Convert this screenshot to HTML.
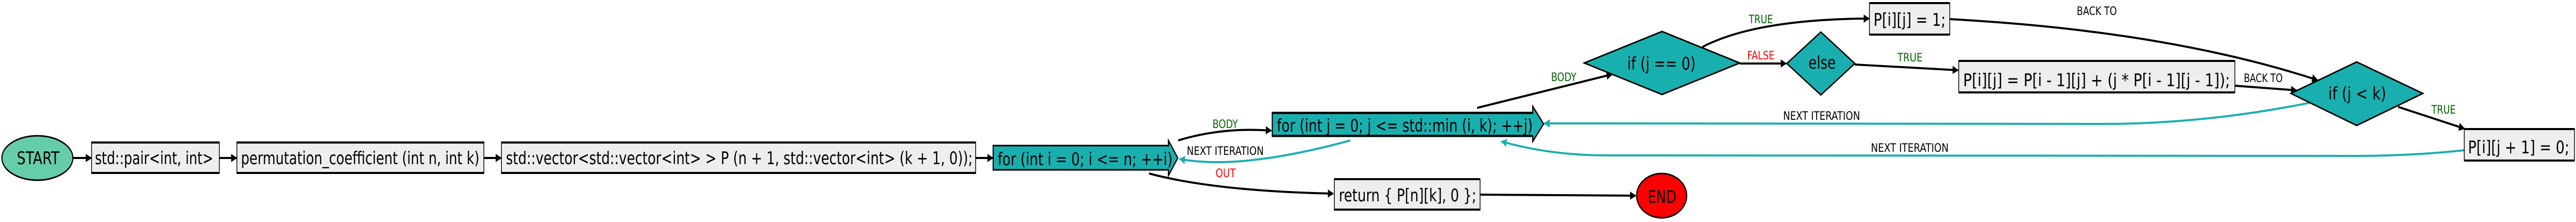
<!DOCTYPE html>
<html><head><meta charset="utf-8"><style>
html,body{margin:0;padding:0;background:#fff;width:100%;height:100%;overflow:hidden;}
svg{display:block;width:100vw;height:100vh;}
text{font-family:"DejaVu Sans Condensed","Liberation Sans",sans-serif;}
</style></head><body>
<svg viewBox="0 0 6894 430" preserveAspectRatio="none" xmlns="http://www.w3.org/2000/svg">
<defs>
<marker id="ab" viewBox="0 0 10 10" refX="9" refY="5" markerWidth="4" markerHeight="4" orient="auto" markerUnits="strokeWidth"><path d="M0,0 L10,5 L0,10 z" fill="#000"/></marker>
<marker id="at" viewBox="0 0 10 10" refX="9" refY="5" markerWidth="4" markerHeight="4" orient="auto" markerUnits="strokeWidth"><path d="M0,0 L10,5 L0,10 z" fill="#1aafaf"/></marker>
</defs>

<g fill="none" stroke-width="4">
<path d="M196,306 L244,306" stroke="#000" marker-end="url(#ab)"/>
<path d="M587,306 L633,306" stroke="#000" marker-end="url(#ab)"/>
<path d="M1295,306 L1341,306" stroke="#000" marker-end="url(#ab)"/>
<path d="M2611,306 L2657,306" stroke="#000" marker-end="url(#ab)"/>
<path d="M3153,272 Q3270,246 3402,253" stroke="#000" marker-end="url(#ab)"/>
<path d="M3614,272 Q3320,330 3157,308" stroke="#1aafaf" marker-end="url(#at)"/>
<path d="M3075,336 Q3250,370 3568,375" stroke="#000" marker-end="url(#ab)"/>
<path d="M3961,377 L4377,379" stroke="#000" marker-end="url(#ab)"/>
<path d="M3953,209 L4314,144" stroke="#000" marker-end="url(#ab)"/>
<path d="M4656,123 L4780,123" stroke="#000" marker-end="url(#ab)"/>
<path d="M4556,91 Q4700,37 5002,36" stroke="#000" marker-end="url(#ab)"/>
<path d="M4964,125 L5240,136" stroke="#000" marker-end="url(#ab)"/>
<path d="M5218,37 Q5800,60 6202,155" stroke="#000" marker-end="url(#ab)"/>
<path d="M5981,166 L6146,175" stroke="#000" marker-end="url(#ab)"/>
<path d="M6418,207 L6595,249" stroke="#000" marker-end="url(#ab)"/>
<path d="M6182,199 Q5900,240 5628,240 L4133,239" stroke="#1aafaf" marker-end="url(#at)"/>
<path d="M6596,291 Q6450,302 6309,302 L4300,301 Q4150,301 4018,274" stroke="#1aafaf" marker-end="url(#at)"/>
</g>

<g>
<ellipse cx="100" cy="306" rx="95" ry="43" fill="#66cdaa" stroke="#000" stroke-width="3"/>
<text x="102" y="318" font-size="34" text-anchor="middle" textLength="114" lengthAdjust="spacingAndGlyphs">START</text>
</g>

<g>
<rect x="245" y="275" width="342" height="61" fill="#eee" stroke="#000" stroke-width="2"/>
<rect x="245" y="274" width="342" height="4"/><rect x="245" y="333" width="342" height="4"/>
<text x="254" y="318" font-size="34" textLength="317" lengthAdjust="spacingAndGlyphs">std::pair&lt;int, int&gt;</text>
</g>
<g>
<rect x="634" y="275" width="661" height="61" fill="#eee" stroke="#000" stroke-width="2"/>
<rect x="634" y="274" width="661" height="4"/><rect x="634" y="333" width="661" height="4"/>
<text x="645" y="318" font-size="34" textLength="638" lengthAdjust="spacingAndGlyphs">permutation_coefficient (int n, int k)</text>
</g>
<g>
<rect x="1342" y="275" width="1269" height="61" fill="#eee" stroke="#000" stroke-width="2"/>
<rect x="1342" y="274" width="1269" height="4"/><rect x="1342" y="333" width="1269" height="4"/>
<text x="1354" y="318" font-size="34" textLength="1249" lengthAdjust="spacingAndGlyphs">std::vector&lt;std::vector&lt;int&gt; &gt; P (n + 1, std::vector&lt;int&gt; (k + 1, 0));</text>
</g>
<g>
<path d="M2658,282 L3127,282 L3127,272 L3152,306 L3127,340 L3127,329 L2658,329 Z" fill="#1aafaf" stroke="#000" stroke-width="3"/>
<text x="2670" y="320" font-size="34" textLength="468" lengthAdjust="spacingAndGlyphs">for (int i = 0; i &lt;= n; ++i)</text>
</g>
<g>
<path d="M3405,218 L4102,218 L4102,206 L4131,240 L4102,274 L4102,264 L3405,264 Z" fill="#1aafaf" stroke="#000" stroke-width="3"/>
<rect x="3405" y="217" width="697" height="4"/><rect x="3405" y="261" width="697" height="4"/>
<text x="3417" y="255" font-size="34" textLength="685" lengthAdjust="spacingAndGlyphs">for (int j = 0; j &lt;= std::min (i, k); ++j)</text>
</g>
<g>
<rect x="3571" y="347" width="390" height="60" fill="#eee" stroke="#000" stroke-width="2"/>
<rect x="3571" y="345" width="390" height="4"/><rect x="3571" y="404" width="390" height="4"/>
<text x="3583" y="390" font-size="34" textLength="368" lengthAdjust="spacingAndGlyphs">return { P[n][k], 0 };</text>
</g>
<g>
<ellipse cx="4447" cy="379" rx="67" ry="43" fill="#f00" stroke="#000" stroke-width="3"/>
<text x="4448" y="393" font-size="34" text-anchor="middle" textLength="77" lengthAdjust="spacingAndGlyphs">END</text>
</g>
<g>
<path d="M4448,61 L4656,122 L4448,183 L4240,122 Z" fill="#1aafaf" stroke="#000" stroke-width="3"/>
<text x="4355" y="135" font-size="34" textLength="183" lengthAdjust="spacingAndGlyphs">if (j == 0)</text>
</g>
<g>
<path d="M4873,62 L4964,123 L4873,184 L4782,123 Z" fill="#1aafaf" stroke="#000" stroke-width="3"/>
<text x="4840" y="133" font-size="34" textLength="73" lengthAdjust="spacingAndGlyphs">else</text>
</g>
<g>
<rect x="5003" y="6" width="215" height="61" fill="#eee" stroke="#000" stroke-width="2"/>
<rect x="5003" y="4" width="215" height="4"/><rect x="5003" y="65" width="215" height="4"/>
<text x="5014" y="50" font-size="34" textLength="193" lengthAdjust="spacingAndGlyphs">P[i][j] = 1;</text>
</g>
<g>
<rect x="5242" y="118" width="739" height="61" fill="#eee" stroke="#000" stroke-width="2"/>
<rect x="5242" y="116" width="739" height="4"/><rect x="5242" y="177" width="739" height="4"/>
<text x="5254" y="167" font-size="34" textLength="714" lengthAdjust="spacingAndGlyphs">P[i][j] = P[i - 1][j] + (j * P[i - 1][j - 1]);</text>
</g>
<g>
<path d="M6307,120 L6484,181 L6307,243 L6131,181 Z" fill="#1aafaf" stroke="#000" stroke-width="3"/>
<text x="6231" y="193" font-size="34" textLength="155" lengthAdjust="spacingAndGlyphs">if (j &lt; k)</text>
</g>
<g>
<rect x="6595" y="250" width="295" height="61" fill="#eee" stroke="#000" stroke-width="2"/>
<rect x="6595" y="248" width="295" height="4"/><rect x="6595" y="309" width="295" height="4"/>
<text x="6605" y="297" font-size="34" textLength="271" lengthAdjust="spacingAndGlyphs">P[i][j + 1] = 0;</text>
</g>

<g font-size="22">
<text x="3245" y="248" fill="#006400" textLength="68" lengthAdjust="spacingAndGlyphs">BODY</text>
<text x="3176" y="300" fill="#000" textLength="206" lengthAdjust="spacingAndGlyphs">NEXT ITERATION</text>
<text x="3253" y="343" fill="#f00" textLength="54" lengthAdjust="spacingAndGlyphs">OUT</text>
<text x="4151" y="157" fill="#006400" textLength="68" lengthAdjust="spacingAndGlyphs">BODY</text>
<text x="4680" y="45" fill="#006400" textLength="65" lengthAdjust="spacingAndGlyphs">TRUE</text>
<text x="4676" y="115" fill="#f00" textLength="73" lengthAdjust="spacingAndGlyphs">FALSE</text>
<text x="5078" y="119" fill="#006400" textLength="67" lengthAdjust="spacingAndGlyphs">TRUE</text>
<text x="5558" y="29" fill="#000" textLength="107" lengthAdjust="spacingAndGlyphs">BACK TO</text>
<text x="6005" y="159" fill="#000" textLength="104" lengthAdjust="spacingAndGlyphs">BACK TO</text>
<text x="6507" y="220" fill="#006400" textLength="65" lengthAdjust="spacingAndGlyphs">TRUE</text>
<text x="4772" y="232" fill="#000" textLength="206" lengthAdjust="spacingAndGlyphs">NEXT ITERATION</text>
<text x="5007" y="294" fill="#000" textLength="208" lengthAdjust="spacingAndGlyphs">NEXT ITERATION</text>
</g>
</svg>
</body></html>
